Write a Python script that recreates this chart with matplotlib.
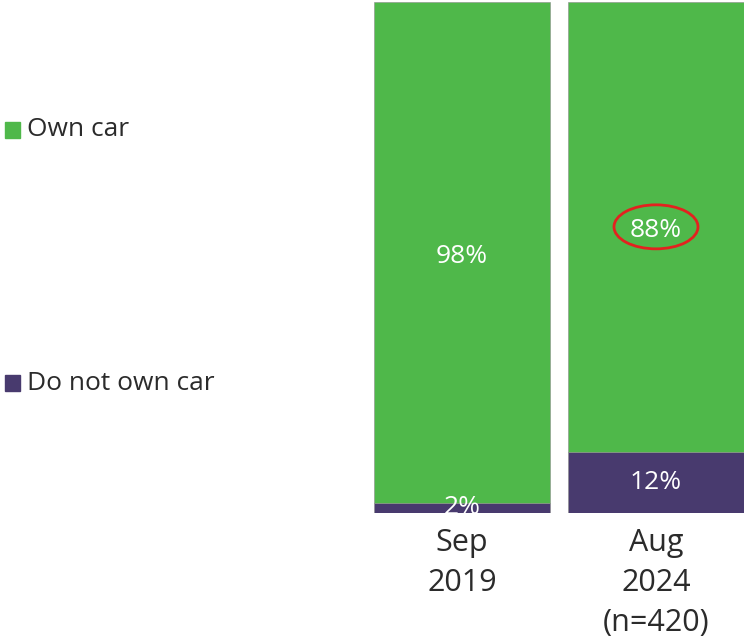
import matplotlib
matplotlib.use("Agg")
import matplotlib.pyplot as plt
from matplotlib.patches import Ellipse, Rectangle

# survey waves and shares
periods = ["Sep\n2019", "Aug\n2024\n(n=420)"]
own_car = [98, 88]
no_car = [2, 12]
series_names = ["Own car", "Do not own car"]

green = "#4fb84a"
purple = "#483a6e"
text_col = "#2b2b2b"

plt.rcParams["font.family"] = ["Open Sans", "DejaVu Sans"]

fig = plt.figure(figsize=(7.46, 6.42), dpi=100)
ax = fig.add_axes([374 / 746, 129 / 642, 370 / 746, 511 / 642])

x = range(len(periods))
w = 176 / 194
ax.bar(x, no_car, width=w, color=purple, edgecolor="#8c8c8c", linewidth=0.4)
ax.bar(x, own_car, width=w, bottom=no_car, color=green, edgecolor="#8c8c8c", linewidth=0.4)

for i in x:
    ax.text(i, no_car[i] / 2, f"{no_car[i]}%", ha="center", va="center",
            color="white", fontsize=19)
    ax.text(i, no_car[i] + own_car[i] / 2 - 0.8, f"{own_car[i]}%", ha="center", va="center",
            color="white", fontsize=19)

# highlight the latest car ownership figure
ax.add_patch(Ellipse((1, no_car[1] + own_car[1] / 2), 84 / 194, 44 / 5.11,
                     fill=False, edgecolor="#e3221f", linewidth=2))

ax.set_xlim(-w / 2, 1 + w / 2)
ax.set_ylim(0, 100)
ax.set_xticks(list(x))
ax.set_xticklabels(periods, fontsize=22, color=text_col, linespacing=1.42)
ax.tick_params(axis="x", length=0, pad=11)
ax.set_yticks([])
for s in ax.spines.values():
    s.set_visible(False)

# legend entries at the left
for name, col, ypix in [(series_names[0], green, 130), (series_names[1], purple, 383)]:
    fy = 1 - ypix / 642
    fig.patches.append(Rectangle((5 / 746, fy - 8 / 642), 15 / 746, 16 / 642,
                                 transform=fig.transFigure, color=col))
    fig.text(27 / 746, fy, name, fontsize=19, color=text_col, va="center")

fig.savefig("out.png", dpi=100)
